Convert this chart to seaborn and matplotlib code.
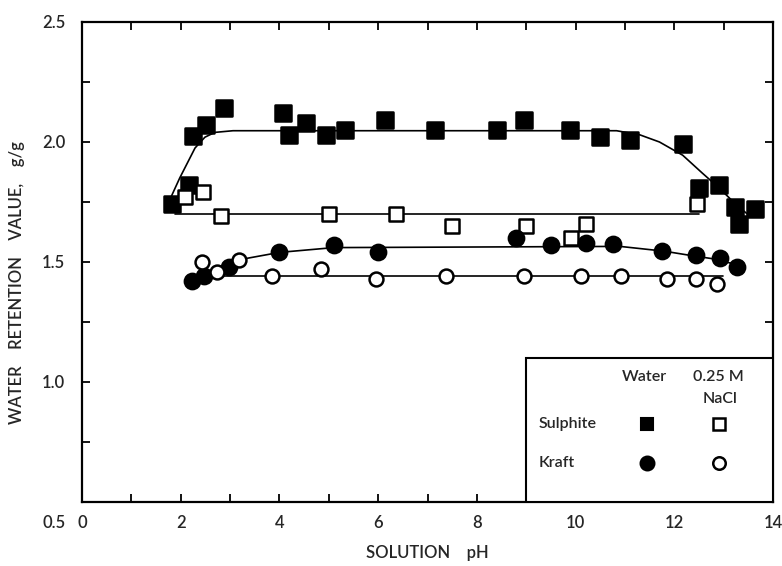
import matplotlib
matplotlib.use("Agg")
import matplotlib.pyplot as plt
import matplotlib.transforms as mtransforms
from matplotlib.patches import Rectangle
import seaborn as sns
import pandas as pd

# Sulphite pulp in water (filled squares)
sul_w_ph = [1.82, 2.17, 2.25, 2.51, 2.87, 4.07, 4.19, 4.53, 4.94, 5.32, 6.13, 7.15,
            8.40, 8.95, 9.88, 10.49, 11.11, 12.17, 12.51, 12.91, 13.24, 13.32, 13.64]
sul_w_wrv = [1.74, 1.82, 2.025, 2.07, 2.14, 2.12, 2.03, 2.08, 2.03, 2.05, 2.09, 2.05,
             2.05, 2.09, 2.05, 2.02, 2.01, 1.99, 1.81, 1.82, 1.73, 1.66, 1.72]

# Sulphite pulp in 0.25 M NaCl (open squares)
sul_n_ph = [2.08, 2.45, 2.81, 5.00, 6.36, 7.49, 9.00, 9.90, 10.22, 12.47]
sul_n_wrv = [1.77, 1.79, 1.69, 1.70, 1.70, 1.65, 1.65, 1.60, 1.66, 1.74]

# Kraft pulp in water (filled circles)
kr_w_ph = [2.23, 2.47, 2.98, 4.00, 5.10, 6.00, 8.80, 9.50, 10.22, 10.75, 11.76, 12.43, 12.93, 13.28]
kr_w_wrv = [1.42, 1.44, 1.48, 1.54, 1.57, 1.54, 1.60, 1.57, 1.58, 1.575, 1.545, 1.53, 1.515, 1.48]

# Kraft pulp in 0.25 M NaCl (open circles)
kr_n_ph = [2.43, 2.73, 3.18, 3.85, 4.84, 5.95, 7.37, 8.95, 10.10, 10.93, 11.86, 12.43, 12.87]
kr_n_wrv = [1.50, 1.46, 1.51, 1.44, 1.47, 1.43, 1.44, 1.44, 1.44, 1.44, 1.43, 1.43, 1.41]

# Hand-drawn trend curves
sul_w_curve_ph = [1.78, 1.98, 2.29, 2.49, 2.69, 3.06, 10.83, 11.30, 11.70, 12.17, 12.57, 12.90, 13.25, 13.48]
sul_w_curve_wrv = [1.76, 1.85, 1.975, 2.02, 2.04, 2.047, 2.047, 2.03, 2.00, 1.945, 1.87, 1.81, 1.74, 1.70]
sul_n_curve_ph = [1.88, 12.50]
sul_n_curve_wrv = [1.70, 1.70]
kr_w_curve_ph = [2.20, 2.50, 3.00, 3.20, 4.00, 5.10, 10.90, 11.80, 12.40, 12.90, 13.30]
kr_w_curve_wrv = [1.42, 1.44, 1.48, 1.51, 1.54, 1.56, 1.565, 1.545, 1.525, 1.51, 1.485]
kr_n_curve_ph = [2.73, 12.98]
kr_n_curve_wrv = [1.44, 1.44]

x_ticks = list(range(0, 15))
x_labels = [str(v) if v % 2 == 0 else "" for v in x_ticks]
y_ticks = [0.5, 0.75, 1.0, 1.25, 1.5, 1.75, 2.0, 2.25, 2.5]
y_labels = ["0.5", "", "1.0", "", "1.5", "", "2.0", "", "2.5"]

sns.set_style("ticks")
plt.rcParams["font.family"] = ["Lato", "DejaVu Sans"]
plt.rcParams["font.weight"] = "semibold"

fig = plt.figure(figsize=(7.82, 5.66), dpi=100)
ax = fig.add_axes([82 / 782, 64 / 566, 691 / 782, 480 / 566])

curves = [
    (sul_w_curve_ph, sul_w_curve_wrv),
    (sul_n_curve_ph, sul_n_curve_wrv),
    (kr_w_curve_ph, kr_w_curve_wrv),
    (kr_n_curve_ph, kr_n_curve_wrv),
]
for cx, cy in curves:
    sns.lineplot(x=cx, y=cy, ax=ax, sort=False, color="black", lw=1.2,
                 estimator=None, zorder=2)

series = [
    (sul_w_ph, sul_w_wrv, "s", "black", 11.5),
    (sul_n_ph, sul_n_wrv, "s", "white", 10),
    (kr_w_ph, kr_w_wrv, "o", "black", 11),
    (kr_n_ph, kr_n_wrv, "o", "white", 10),
]
for px, py, m, fc, ms in series:
    df = pd.DataFrame({"ph": px, "wrv": py})
    sns.scatterplot(data=df, x="ph", y="wrv", ax=ax, marker=m, s=ms ** 2,
                    color=fc, edgecolor="black", linewidth=1.8, zorder=3,
                    clip_on=False)

ax.set_xlim(0, 14)
ax.set_ylim(0.5, 2.5)
ax.set_xticks(x_ticks)
ax.set_xticklabels(x_labels)
ax.set_yticks(y_ticks)
ax.set_yticklabels(y_labels)
ax.set_xlabel("")
ax.set_ylabel("")
ax.tick_params(direction="in", length=6, width=1.3, top=True, right=True,
               labelsize=12, color="black")
ax.tick_params(axis="x", pad=9)
ax.tick_params(axis="y", pad=12)
for sp in ax.spines.values():
    sp.set_linewidth(1.6)
    sp.set_color("black")
    sp.set_visible(True)

# the lowest y label sits just under the axis corner
lab05 = ax.get_yticklabels()[0]
lab05.set_transform(lab05.get_transform() +
                    mtransforms.ScaledTranslation(0, -0.2, fig.dpi_scale_trans))

fig.text(0.022, 0.50, "WATER    RETENTION    VALUE,    g/g", rotation=90,
         ha="center", va="center", fontsize=12)
fig.text(427 / 782, 1 - 553 / 566, "SOLUTION    pH", ha="center", va="center",
         fontsize=12)

# key box in the lower-right corner
ax.add_patch(Rectangle((9.0, 0.5), 5.0, 0.6, facecolor="white",
                       edgecolor="black", lw=1.5, zorder=4))
ax.text(11.4, 1.02, "Water", ha="center", va="center", fontsize=11.5, zorder=5)
ax.text(12.9, 1.02, "0.25 M", ha="center", va="center", fontsize=11.5, zorder=5)
ax.text(12.93, 0.93, "NaCl", ha="center", va="center", fontsize=11.5, zorder=5)
ax.text(9.25, 0.825, "Sulphite", ha="left", va="center", fontsize=11.5, zorder=5)
ax.text(9.25, 0.6625, "Kraft", ha="left", va="center", fontsize=11.5, zorder=5)
ax.plot([11.44], [0.825], marker="s", ms=9, mfc="black", mec="black", mew=1.5, zorder=5)
ax.plot([12.9], [0.825], marker="s", ms=8.5, mfc="white", mec="black", mew=1.8, zorder=5)
ax.plot([11.44], [0.6625], marker="o", ms=10, mfc="black", mec="black", mew=1.5, zorder=5)
ax.plot([12.9], [0.6625], marker="o", ms=9, mfc="white", mec="black", mew=1.8, zorder=5)

fig.savefig("out.png", dpi=100, facecolor="white")
